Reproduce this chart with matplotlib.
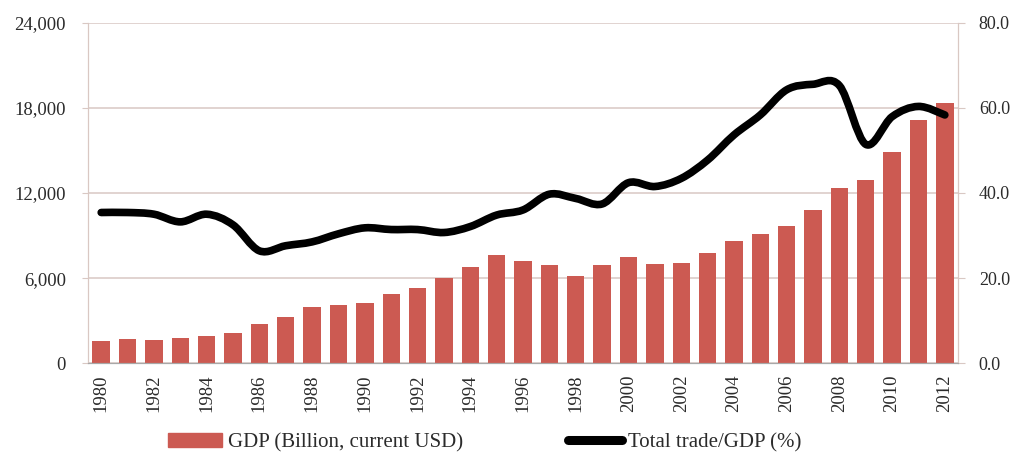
import numpy as np
import matplotlib.pyplot as plt
from matplotlib.path import Path
from matplotlib.patches import PathPatch, Patch
from matplotlib.lines import Line2D
from matplotlib.ticker import FuncFormatter

plt.rcParams['font.family'] = ['Liberation Serif', 'DejaVu Serif']

years = list(range(1980, 2013))
gdp = [1550, 1730, 1640, 1800, 1945, 2110, 2790, 3280, 3965, 4105,
       4270, 4880, 5325, 6030, 6760, 7620, 7225, 6925, 6150, 6925,
       7490, 7015, 7065, 7745, 8635, 9125, 9670, 10795, 12370, 12910,
       14880, 17135, 18310]
trade = [35.4, 35.4, 35.0, 33.2, 35.0, 32.5, 26.4, 27.6, 28.5, 30.4,
         31.8, 31.4, 31.4, 30.7, 32.1, 34.8, 36.0, 39.7, 38.7, 37.4,
         42.4, 41.5, 43.4, 47.7, 53.6, 58.3, 64.2, 65.5, 65.2, 51.4,
         57.9, 60.3, 58.3]

bar_color = '#CC5A52'
grid_color = '#D9C8C3'
text_color = '#2B2B2B'


def smooth_path(xs, ys):
    # Catmull-Rom segments written as cubic Bezier curves
    pts = np.column_stack([xs, ys]).astype(float)
    ext = np.vstack([pts[0], pts, pts[-1]])
    verts = [pts[0]]
    codes = [Path.MOVETO]
    for i in range(len(pts) - 1):
        p0, p1, p2, p3 = ext[i], ext[i + 1], ext[i + 2], ext[i + 3]
        c1 = p1 + (p2 - p0) / 6.0
        c2 = p2 - (p3 - p1) / 6.0
        verts += [c1, c2, p2]
        codes += [Path.CURVE4] * 3
    return Path(verts, codes)


fig = plt.figure(figsize=(10.14, 4.54), dpi=100)
ax = fig.add_axes([0.0868, 0.1998, 0.858, 0.7506])
x = np.arange(len(years))

ax.bar(x, gdp, width=0.66, color=bar_color, zorder=2)
ax.set_xlim(-0.5, len(years) - 0.5)
ax.set_ylim(0, 24000)
ax.set_yticks(range(0, 24001, 6000))
ax.yaxis.set_major_formatter(FuncFormatter(lambda v, p: f"{v:,.0f}"))
ax.grid(axis='y', color=grid_color, lw=1.1)
ax.set_axisbelow(True)
ax.set_xticks(x[::2])
ax.set_xticklabels([str(y) for y in years[::2]], rotation=90)
ax.tick_params(axis='x', length=0, pad=8, labelsize=13.5, colors=text_color)
ax.tick_params(axis='y', length=4, color=grid_color, pad=12,
               labelsize=13.5, colors=text_color)

ax2 = ax.twinx()
ax2.set_ylim(0, 80)
ax2.set_yticks(range(0, 81, 20))
ax2.yaxis.set_major_formatter(FuncFormatter(lambda v, p: f"{v:.1f}"))
ax2.tick_params(axis='y', length=5, color=grid_color, pad=10,
                labelsize=13, colors=text_color)
ax2.add_patch(PathPatch(smooth_path(x, trade), facecolor='none',
                        edgecolor='black', lw=5.5, capstyle='round',
                        joinstyle='round', zorder=3))

for a in (ax, ax2):
    a.spines['top'].set_visible(False)
    a.spines['left'].set_color(grid_color)
    a.spines['right'].set_color(grid_color)
    a.spines['bottom'].set_color('#A8A8A8')

handles = [Patch(color=bar_color),
           Line2D([], [], color='black', lw=6.5, solid_capstyle='round')]
labels = ['GDP (Billion, current USD)', 'Total trade/GDP (%)']
fig.legend(handles, labels, loc='center', bbox_to_anchor=(0.478, 0.025),
           ncol=2, frameon=False, fontsize=15, handlelength=2.6,
           handleheight=0.6, handletextpad=0.3, columnspacing=5.0,
           labelcolor=text_color)

fig.savefig('out.png', dpi=100)
